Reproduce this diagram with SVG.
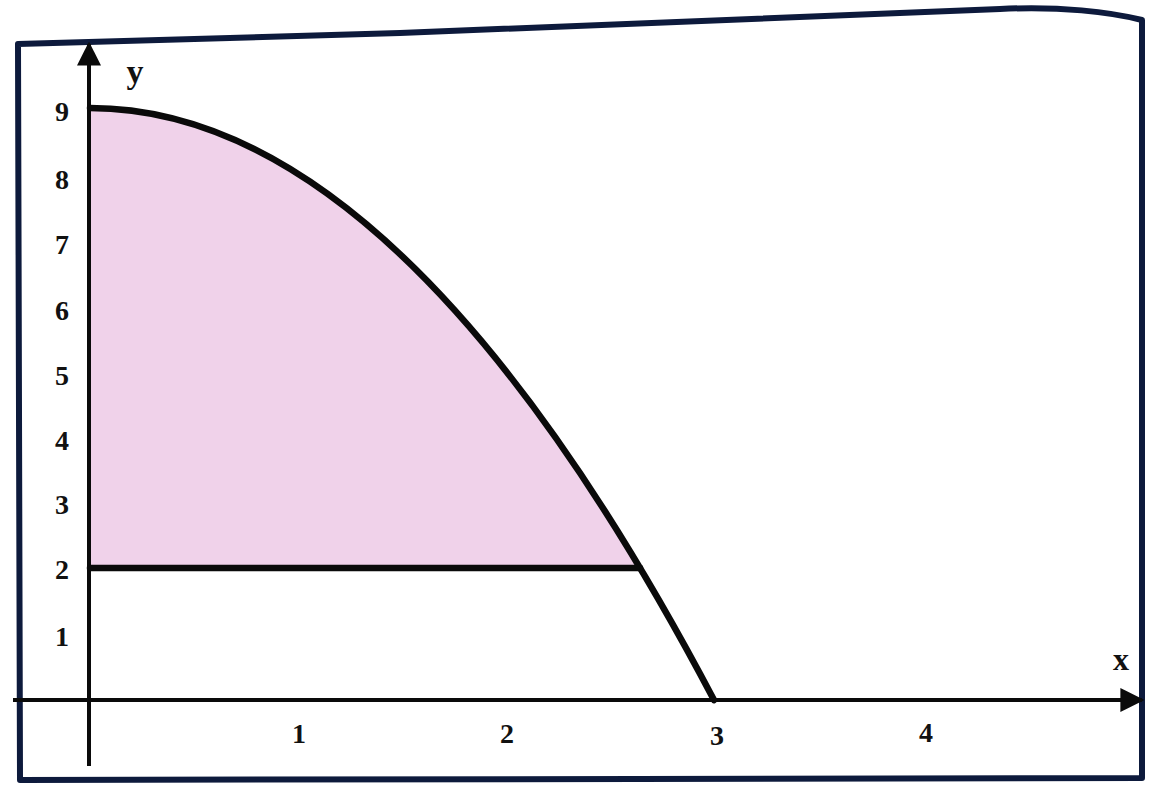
<svg xmlns="http://www.w3.org/2000/svg" width="1157" height="786" viewBox="0 0 1157 786">
<style>
.lbl{font-family:"Liberation Serif","Times New Roman",serif;font-weight:bold;font-size:28px;fill:#111;text-anchor:middle}
.nm{font-family:"Liberation Serif","Times New Roman",serif;font-weight:bold;fill:#111;text-anchor:middle}
.ax{stroke:#0a0a0a;stroke-width:4;fill:none}
.cv{stroke:#0a0a0a;stroke-width:6.5;fill:none;stroke-linecap:round}
</style>
<defs>
<marker id="arr" viewBox="0 0 10 10" refX="9" refY="5" markerWidth="6" markerHeight="6" markerUnits="strokeWidth" orient="auto">
<path d="M0,0 L10,5 L0,10 Z" fill="#0a0a0a"/>
</marker>
</defs>
<rect width="1157" height="786" fill="#ffffff"/>
<g id="frame">
<path d="M18,44 L20,780 L1142,778 L1142,20 C1110,12 1060,6 1000,9 C900,14 700,22 400,33 Z" fill="#ffffff" stroke="#0d1a3c" stroke-width="6" stroke-linejoin="round"/>
</g>
<g id="region">
<path d="M90,568 L90,108 Q365.2,108 640.3,568.3 Z" fill="#f0d2ea"/>
</g>
<g id="connectors">
<line class="ax" x1="13" y1="700" x2="1142" y2="700" marker-end="url(#arr)"/>
<line class="ax" x1="89" y1="766" x2="89" y2="44" marker-end="url(#arr)"/>
<path class="cv" d="M90,108 Q402,108 714,700"/>
<line class="cv" x1="90" y1="568" x2="640" y2="568"/>
</g>
<g id="ylabels">
<text class="lbl" x="62" y="121">9</text>
<text class="lbl" x="62" y="189">8</text>
<text class="lbl" x="62" y="254">7</text>
<text class="lbl" x="62" y="320">6</text>
<text class="lbl" x="62" y="385">5</text>
<text class="lbl" x="62" y="450">4</text>
<text class="lbl" x="62" y="514">3</text>
<text class="lbl" x="62" y="579">2</text>
<text class="lbl" x="62" y="646">1</text>
</g>
<g id="xlabels">
<text class="lbl" x="299" y="743">1</text>
<text class="lbl" x="507" y="743">2</text>
<text class="lbl" x="717" y="745">3</text>
<text class="lbl" x="926" y="742">4</text>
</g>
<g id="axisnames">
<text class="nm" x="135" y="83" font-size="34">y</text>
<text class="nm" x="1121" y="670" font-size="32">x</text>
</g>
</svg>
